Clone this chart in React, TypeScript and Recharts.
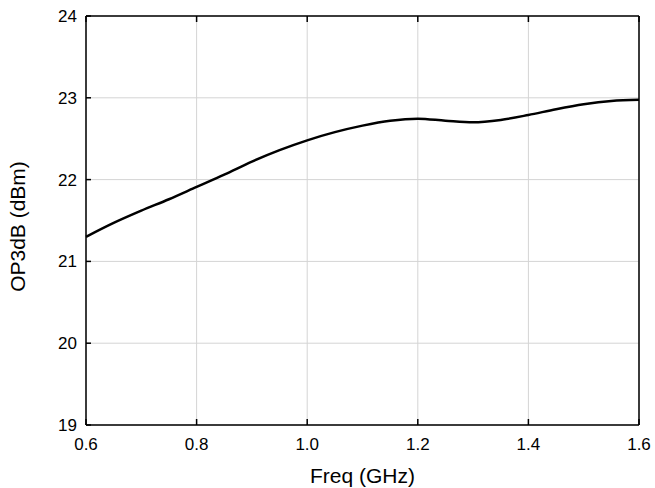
import React from "react";
import {
  LineChart,
  Line,
  XAxis,
  YAxis,
  CartesianGrid,
  ReferenceLine,
} from "recharts";

// Frequency sweep (GHz) and measured output P3dB (dBm)
const freqs = [
  0.6, 0.65, 0.7, 0.75, 0.8, 0.85, 0.9, 0.95, 1.0, 1.05, 1.1,
  1.15, 1.2, 1.25, 1.3, 1.35, 1.4, 1.45, 1.5, 1.55, 1.6,
];
const op3db = [
  21.3, 21.47, 21.62, 21.76, 21.91, 22.06, 22.22, 22.36, 22.48, 22.58, 22.66,
  22.72, 22.745, 22.72, 22.7, 22.73, 22.79, 22.86, 22.92, 22.96, 22.975,
];
const xTicks = [0.6, 0.8, 1.0, 1.2, 1.4, 1.6];
const yTicks = [19, 20, 21, 22, 23, 24];

const data = freqs.map((f, i) => ({ f, v: op3db[i] }));

const FONT = "'Liberation Sans', Arial, sans-serif";
const TICK_LEN = 6;
const TOP = 16;

// bottom axis: label plus inward tick marks at bottom and top edges
const makeBottomTick = (plotTop: number) => (props: any) => {
  const { x, y, payload } = props;
  const axisY = y - 13;
  return (
    <g>
      <line x1={x} x2={x} y1={axisY} y2={axisY - TICK_LEN} stroke="#000" strokeWidth={1.5} />
      <line x1={x} x2={x} y1={plotTop} y2={plotTop + TICK_LEN} stroke="#000" strokeWidth={1.5} />
      <text x={x} y={y} dy="0.71em" textAnchor="middle" fontSize={17} fill="#000" fontFamily={FONT}>
        {Number(payload.value).toFixed(1)}
      </text>
    </g>
  );
};

const LeftTick = (props: any) => {
  const { x, y, payload } = props;
  return (
    <g>
      <line x1={x + 9} x2={x + 9 + 5} y1={y} y2={y} stroke="#000" strokeWidth={1.5} />
      <text x={x} y={y} dy="0.355em" textAnchor="end" fontSize={17} fill="#000" fontFamily={FONT}>
        {payload.value}
      </text>
    </g>
  );
};

const YLabel = (props: any) => {
  const { viewBox } = props;
  const cx = 18;
  const cy = viewBox.y + viewBox.height / 2 + 6;
  return (
    <text
      x={cx}
      y={cy}
      dy="0.355em"
      textAnchor="middle"
      transform={`rotate(-90, ${cx}, ${cy})`}
      fontSize={21}
      fill="#000"
      fontFamily={FONT}
    >
      OP3dB (dBm)
    </text>
  );
};

export default function App() {
  return (
    <div style={{ position: "absolute", left: 0, top: 0, background: "#fff" }}>
      <LineChart
        width={655}
        height={488}
        data={data}
        margin={{ top: TOP, right: 16, left: 0, bottom: 0 }}
        style={{ fontFamily: FONT }}
      >
        <CartesianGrid stroke="#d4d4d4" strokeWidth={1} />
        <XAxis
          dataKey="f"
          type="number"
          domain={[0.6, 1.6]}
          ticks={xTicks}
          height={63}
          tickSize={0}
          tickMargin={13}
          tickLine={false}
          tick={makeBottomTick(TOP)}
          axisLine={{ stroke: "#000", strokeWidth: 1.5 }}
          label={{ value: "Freq (GHz)", position: "insideBottom", offset: 5, fontSize: 21, fill: "#000" }}
        />
        <YAxis
          type="number"
          domain={[19, 24]}
          ticks={yTicks}
          width={86}
          tickSize={0}
          tickMargin={9}
          tickLine={false}
          tick={LeftTick}
          axisLine={{ stroke: "#000", strokeWidth: 1.5 }}
          label={<YLabel />}
        />
        {/* frame: top and right edges */}
        <ReferenceLine y={24} stroke="#000" strokeWidth={1.5} />
        <ReferenceLine x={1.6} stroke="#000" strokeWidth={1.5} />
        <Line
          type="monotone"
          dataKey="v"
          stroke="#000"
          strokeWidth={2.5}
          dot={false}
          isAnimationActive={false}
        />
      </LineChart>
    </div>
  );
}
